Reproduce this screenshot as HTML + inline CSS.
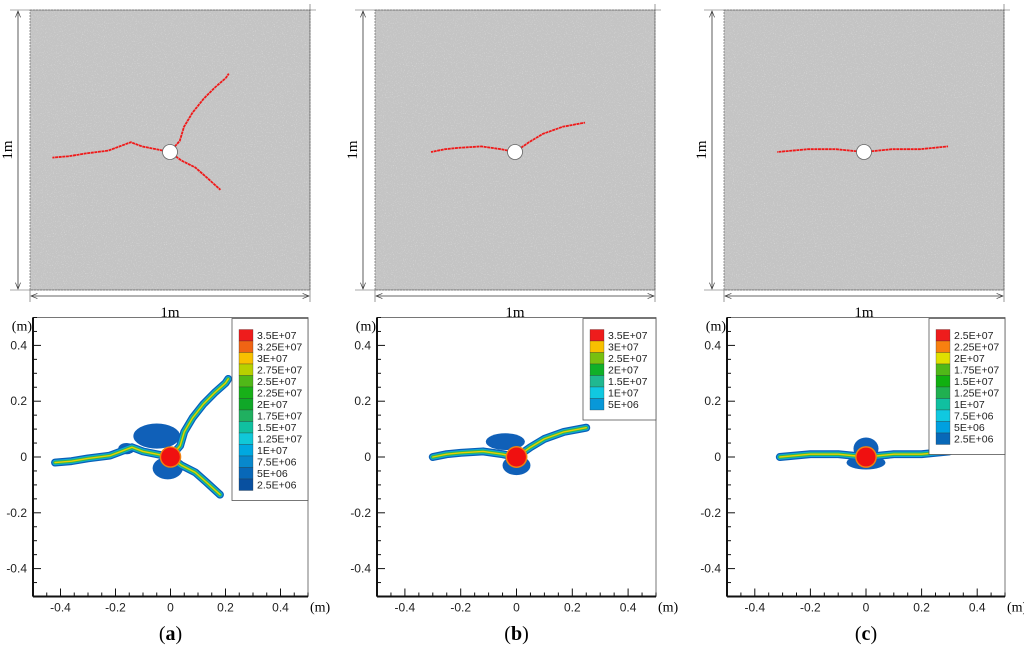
<!DOCTYPE html>
<html><head><meta charset="utf-8"><style>
html,body{margin:0;padding:0;background:#fff;}
svg{display:block;font-family:"Liberation Sans",sans-serif;}
.serif{font-family:"Liberation Serif",serif;}
</style></head><body>
<svg id="fig" width="1024" height="651" viewBox="0 0 1024 651" xmlns="http://www.w3.org/2000/svg">
<defs>
<filter id="grain" x="0" y="0" width="100%" height="100%">
<feTurbulence type="fractalNoise" baseFrequency="0.9" numOctaves="1" seed="3"/>
<feColorMatrix type="matrix" values="0 0 0 0 1  0 0 0 0 1  0 0 0 0 1  0 0 0 1.6 -0.9"/>
</filter>
<marker id="arr" viewBox="0 0 10 10" refX="10" refY="5" markerWidth="10" markerHeight="8" orient="auto-start-reverse"><path d="M0,1 L10,5 L0,9" fill="none" stroke="#333" stroke-width="1"/></marker>
</defs>
<g id="root"></g>
</svg>
<script>
// ---- data (meters, relative to borehole centre) ----
const panelLabels = ["a","b","c"];
const yTicks = [-0.4,-0.2,0,0.2,0.4];
const xTicks = [-0.4,-0.2,0,0.2,0.4];
const crackA1 = [[0,0],[-0.05,0.01],[-0.1,0.02],[-0.14,0.035],[-0.18,0.02],[-0.22,0.005],[-0.3,-0.005],[-0.36,-0.015],[-0.42,-0.02]];
const crackA2 = [[0,0],[0.035,0.04],[0.05,0.09],[0.08,0.14],[0.12,0.19],[0.16,0.23],[0.2,0.265],[0.21,0.28]];
const crackA3 = [[0,0],[0.04,-0.03],[0.09,-0.055],[0.13,-0.09],[0.18,-0.135]];
const crackB1 = [[0,0],[-0.05,0.01],[-0.12,0.02],[-0.2,0.015],[-0.25,0.01],[-0.3,0.0]];
const crackB2 = [[0,0],[0.05,0.035],[0.1,0.065],[0.17,0.09],[0.25,0.105]];
const crackC1 = [[0,0],[-0.1,0.01],[-0.2,0.01],[-0.31,0.0]];
const crackC2 = [[0,0],[0.1,0.01],[0.2,0.01],[0.3,0.02]];
const legendA = ["3.5E+07","3.25E+07","3E+07","2.75E+07","2.5E+07","2.25E+07","2E+07","1.75E+07","1.5E+07","1.25E+07","1E+07","7.5E+06","5E+06","2.5E+06"];
const legendColorsA = ["#ee1c1c","#f06414","#f8c000","#b8d000","#50b818","#18b018","#10a828","#20b060","#10c0a0","#10c8d8","#00a8e0","#0888cc","#0868b8","#0850a0"];
const legendB = ["3.5E+07","3E+07","2.5E+07","2E+07","1.5E+07","1E+07","5E+06"];
const legendColorsB = ["#ee1c1c","#f8c000","#78c010","#10b028","#20b890","#10c8e0","#0898d8"];
const legendC = ["2.5E+07","2.25E+07","2E+07","1.75E+07","1.5E+07","1.25E+07","1E+07","7.5E+06","5E+06","2.5E+06"];
const legendColorsC = ["#ee1c1c","#f88010","#e0e000","#50b818","#10b010","#20b050","#10c0a0","#10c8e0","#00a0e0","#0868b8"];

const NS="http://www.w3.org/2000/svg";
const root=document.getElementById('root');
function mk(tag,attrs,parent,txt){const e=document.createElementNS(NS,tag);for(const k in attrs)e.setAttribute(k,attrs[k]);if(txt!==undefined)e.textContent=txt;(parent||root).appendChild(e);return e;}

const panels=[
 {sq:30, pl:33, pr:308, cracks:[crackA1,crackA2,crackA3], leg:legendA, legc:legendColorsA, lx:232, blobs:[[-0.05,0.075,0.085,0.045],[-0.01,-0.04,0.055,0.04],[-0.16,0.03,0.03,0.02]]},
 {sq:375, pl:377, pr:656, cracks:[crackB1,crackB2], leg:legendB, legc:legendColorsB, lx:583, blobs:[[-0.04,0.055,0.07,0.03],[0.0,-0.03,0.05,0.035]]},
 {sq:724, pl:727, pr:1005, cracks:[crackC1,crackC2], leg:legendC, legc:legendColorsC, lx:929, blobs:[[0.0,0.03,0.045,0.04],[0.0,-0.02,0.07,0.025]]}
];
const Y0=457, H=279, topY=Y0-H/2, botY=Y0+H/2;

panels.forEach((p,i)=>{
 const g=mk('g',{});
 
 
 // ---- top: particle model ----
 const S=280, sx=p.sq, sy=10;
 const cx=sx+S/2, cy=sy+142;
 const tsx=v=>cx+v*S, tsy=v=>cy-v*S;
 const sq=mk('rect',{x:sx,y:sy,width:S,height:S,fill:'#c4c4c4',stroke:'#555','stroke-width':0.6,'stroke-dasharray':'2 1'},g);
 
 
 mk('rect',{x:sx,y:sy,width:S,height:S,filter:'url(#grain)',opacity:0.8},g);
 p.cracks.forEach((c,k)=>{
  const pl=mk('polyline',{points:c.map(q=>tsx(q[0])+','+tsy(q[1])).join(' '),fill:'none',stroke:'#f01818','stroke-width':1.8,'stroke-dasharray':'3 0.6'},g);
  
  
 });
 const hole=mk('circle',{cx:cx,cy:cy,r:7.5,fill:'#fff',stroke:'#666','stroke-width':0.8},g);
 
 
 // dimension lines
 mk('line',{x1:sx-12,y1:sy+1,x2:sx-12,y2:sy+S-1,stroke:'#333','stroke-width':0.8,'marker-start':'url(#arr)','marker-end':'url(#arr)'},g);
 mk('line',{x1:sx-20,y1:sy,x2:sx+S+6,y2:sy,stroke:'#555','stroke-width':0.6},g);
 mk('line',{x1:sx-20,y1:sy+S,x2:sx+S,y2:sy+S,stroke:'#555','stroke-width':0.6},g);
 mk('line',{x1:sx+1,y1:sy+S+6,x2:sx+S-1,y2:sy+S+6,stroke:'#333','stroke-width':0.8,'marker-start':'url(#arr)','marker-end':'url(#arr)'},g);
 mk('line',{x1:sx,y1:sy+S,x2:sx,y2:sy+S+12,stroke:'#555','stroke-width':0.6},g);
 mk('line',{x1:sx+S,y1:sy-6,x2:sx+S,y2:sy+S+12,stroke:'#555','stroke-width':0.6},g);
 const vl=mk('text',{x:0,y:0,'font-size':15,'text-anchor':'middle',class:'serif',transform:`translate(${sx-18},${sy+S/2}) rotate(-90)`},g,'1m');
 
 
 const hl=mk('text',{x:sx+S/2,y:sy+S+27,'font-size':15,'text-anchor':'middle',class:'serif'},g,'1m');
 
 

 // ---- bottom: contour plot ----
 const W=p.pr-p.pl, xc=(p.pl+p.pr)/2;
 const X=v=>xc+v*W, Y=v=>Y0-v*H;
 const pw=W/280;
 p.blobs.forEach(b=>{
  const e=mk('ellipse',{cx:X(b[0]),cy:Y(b[1]),rx:b[2]*W,ry:b[3]*H,fill:'#1060b8'},g);
  
  
 });
 const layers=[[8,'#0860b8'],[5.5,'#10a8d8'],[3.5,'#30b850'],[1.4,'#e8d000']];
 layers.forEach(L=>{
  p.cracks.forEach(c=>{
   const pl=mk('polyline',{points:c.map(q=>X(q[0])+','+Y(q[1])).join(' '),fill:'none',stroke:L[1],'stroke-width':L[0]*pw,'stroke-linejoin':'round','stroke-linecap':'round'},g);
   
   
  });
 });
 mk('circle',{cx:X(0),cy:Y(0),r:11*pw,fill:'#f08010'},g);
 const rc=mk('circle',{cx:X(0),cy:Y(0),r:9.5*pw,fill:'#f01010'},g);
 
 
 // frame
 const fr=mk('rect',{x:p.pl,y:topY,width:W,height:H,fill:'none',stroke:'#555','stroke-width':0.8},g);
 
 
 mk('line',{x1:p.pl,y1:topY,x2:p.pl,y2:botY,stroke:'#111','stroke-width':2},g);
 mk('line',{x1:p.pl,y1:botY,x2:p.pr,y2:botY,stroke:'#111','stroke-width':2},g);
 for(let v=-0.45;v<0.5;v+=0.05){
  const major=Math.abs(Math.round(v*100)%20)===0;
  mk('line',{x1:X(v),y1:botY,x2:X(v),y2:botY-(major?8:4),stroke:'#111','stroke-width':1},g);
  mk('line',{x1:p.pl,y1:Y(v),x2:p.pl+(major?8:4),y2:Y(v),stroke:'#111','stroke-width':1},g);
 }
 yTicks.forEach(v=>{
  const t=mk('text',{x:p.pl-6,y:Y(v)+4,'font-size':12,'text-anchor':'end',fill:'#222'},g,v===0?'0':String(v));
  
  
 });
 xTicks.forEach(v=>{
  const t=mk('text',{x:X(v),y:botY+15,'font-size':12,'text-anchor':'middle',fill:'#222'},g,v===0?'0':String(v));
  
  
 });
 const yu=mk('text',{x:p.pl-1,y:topY+13,'font-size':14,'text-anchor':'end',class:'serif'},g,'(m)');
 
 
 const xu=mk('text',{x:p.pr+2,y:botY+15,'font-size':14,class:'serif'},g,'(m)');
 
 
 // legend
 const n=p.leg.length, rh=11.5, lh=n*rh+21, lw=p.pr-p.lx;
 const lg=mk('g',{},g);
 
 
 mk('rect',{x:p.lx,y:topY+1,width:lw,height:lh,fill:'#fff',stroke:'#555','stroke-width':0.8},lg);
 p.leg.forEach((s,k)=>{
  const yy=topY+12+k*rh;
  const sw=mk('rect',{x:p.lx+7,y:yy,width:14,height:rh,fill:p.legc[k],stroke:'#333','stroke-width':0.3},lg);
  
  
  const t=mk('text',{x:p.lx+25,y:yy+9.5,'font-size':10.5,fill:'#222'},lg,s);
  
  
 });
 const cap=mk('text',{x:xc,y:640,'font-size':20,'text-anchor':'middle',class:'serif'},g);
 
 
 cap.innerHTML='(<tspan font-weight="bold">'+panelLabels[i]+'</tspan>)';
});
</script>
</body></html>
